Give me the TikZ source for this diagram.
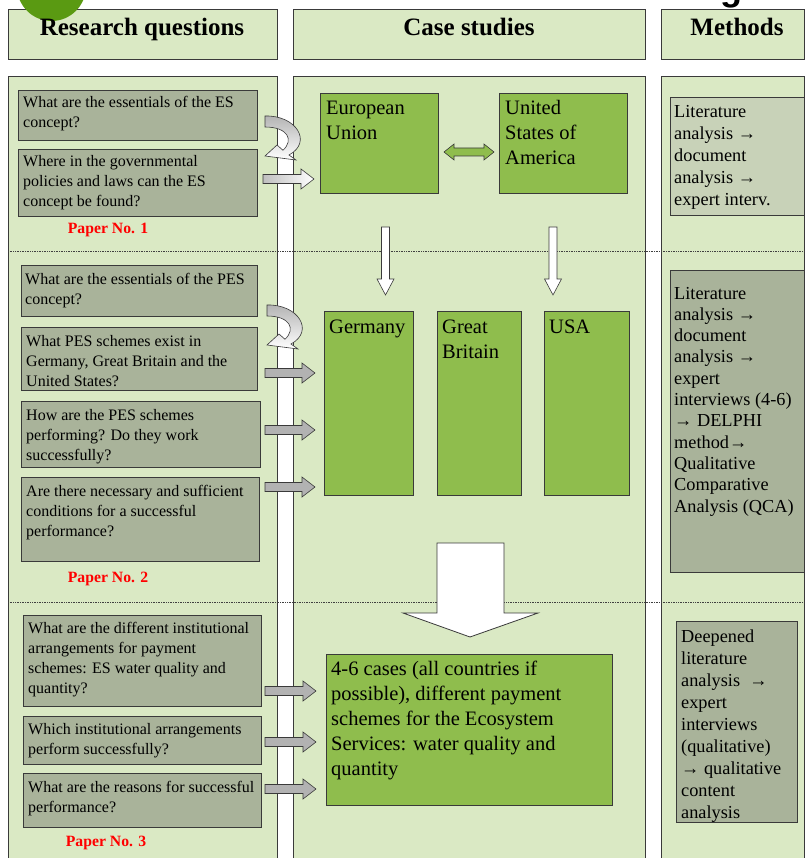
\documentclass[tikz,border=0pt]{standalone}
\usepackage{fontspec}
\setmainfont{Liberation Serif}
\newfontfamily\titlefont{Liberation Sans}
\definecolor{cBg}{HTML}{DAE9C4}
\definecolor{cGray}{HTML}{A9B39A}
\definecolor{cLight}{HTML}{C8D2B8}
\definecolor{cGreen}{HTML}{8FBD4D}
\definecolor{cCircle}{HTML}{5A9A12}
\definecolor{cLine}{HTML}{3A3A3A}
\newcommand\rarrow[4]{\draw[cLine,line width=0.6pt,#4] (#1,#3-4.5) -- (#2-13,#3-4.5) -- (#2-13,#3-10) -- (#2,#3) -- (#2-13,#3+10) -- (#2-13,#3+4.5) -- (#1,#3+4.5) -- cycle;}
\newcommand\darrow[3]{\draw[cLine,line width=0.6pt,fill=white] (#1-4,#2) -- (#1+4,#2) -- (#1+4,#3-16) -- (#1+8.5,#3-16) -- (#1,#3) -- (#1-8.5,#3-16) -- (#1-4,#3-16) -- cycle;}
\newcommand\curvarrow[2]{\begin{scope}[shift={(#1,#2)}]
\draw[cLine,line width=0.6pt,top color=black!30,bottom color=white] (265,116) .. controls (296,115) and (313,142) .. (289,155) -- (296,160) -- (265,156) -- (277,145) -- (283,150.3) .. controls (294,140) and (288,127) .. (265,127) -- cycle;
\end{scope}}
\begin{document}
\begin{tikzpicture}[x=1pt,y=-1pt,
  colbox/.style={draw=cLine,fill=cBg,line width=0.8pt,inner sep=0,anchor=north west},
  qbox/.style={draw=cLine,fill=cGray,line width=0.8pt,inner sep=0,anchor=north west},
  gbox/.style={draw=cLine,fill=cGreen,line width=0.8pt,inner sep=0,anchor=north west},
  lbox/.style={draw=cLine,fill=cLight,line width=0.8pt,inner sep=0,anchor=north west},
  htext/.style={font=\fontsize{25}{28}\selectfont\bfseries,inner sep=0,anchor=base},
  qtext/.style={font=\fontsize{16}{20}\selectfont,align=left,inner sep=0,anchor=base west},
  gtext/.style={font=\fontsize{20.5}{25}\selectfont,align=left,inner sep=0,anchor=base west},
  mtext/.style={font=\fontsize{18.3}{21.3}\selectfont,align=left,inner sep=0,anchor=base west},
  ptext/.style={font=\fontsize{15.7}{18}\selectfont\bfseries,text=red,inner sep=0,anchor=base}]
\useasboundingbox (0,0) rectangle (805,858);
% cut-off title fragment
\node[font=\fontsize{36}{40}\selectfont\titlefont\bfseries,inner sep=0,anchor=base west] (title) at (720,0.5) {g};
% headers
\node[colbox,minimum width=269,minimum height=50] (h1) at (8,9) {};
\node[colbox,minimum width=352,minimum height=50] (h2) at (293,9) {};
\node[colbox,minimum width=143,minimum height=50] (h3) at (661,9) {};
\node[circle,fill=cCircle,minimum size=69,inner sep=0] (logo) at (51.5,-13.5) {};
\node[htext] (ht1) at (142,36) {Research questions};
\node[htext] (ht2) at (469,36) {Case studies};
\node[htext] (ht3) at (737,36) {Methods};
% columns
\node[colbox,minimum width=269,minimum height=800] (c1) at (8,76) {};
\node[colbox,minimum width=352,minimum height=800] (c2) at (293,76) {};
\node[colbox,minimum width=143,minimum height=800] (c3) at (661,76) {};
\coordinate (d1l) at (8,251); \coordinate (d1r) at (805,251);
\coordinate (d2l) at (8,602); \coordinate (d2r) at (805,602);
\draw[densely dotted,black!75,line width=0.7pt] (d1l) -- (d1r);
\draw[densely dotted,black!75,line width=0.7pt] (d2l) -- (d2r);
% questions
\node[qbox,minimum width=239,minimum height=50] (q1) at (18,90) {};
\node[qtext] (tq1) at (23,128) {What are the essentials of the ES\\concept?};
\node[qbox,minimum width=239,minimum height=67] (q2) at (18,149) {};
\node[qtext] (tq2) at (23,207) {Where in the governmental\\policies and laws can the ES\\concept be found?};
\node[ptext] (p1) at (108,234) {Paper No. 1};
\node[qbox,minimum width=236,minimum height=51] (q3) at (21,265) {};
\node[qtext] (tq3) at (25,304) {What are the essentials of the PES\\concept?};
\node[qbox,minimum width=236,minimum height=63] (q4) at (21,327) {};
\node[qtext] (tq4) at (26,386) {What PES schemes exist in\\Germany, Great Britain and the\\United States?};
\node[qbox,minimum width=239,minimum height=66] (q5) at (21,401) {};
\node[qtext] (tq5) at (26,460) {How are the PES schemes\\performing? Do they work\\successfully?};
\node[qbox,minimum width=238,minimum height=84] (q6) at (21,477) {};
\node[qtext] (tq6) at (26,536) {Are there necessary and sufficient\\conditions for a successful\\performance?};
\node[ptext] (p2) at (108,582) {Paper No. 2};
\node[qbox,minimum width=238,minimum height=91] (q7) at (23,615) {};
\node[qtext] (tq7) at (28,693) {What are the different institutional\\arrangements for payment\\schemes: ES water quality and\\quantity?};
\node[qbox,minimum width=238,minimum height=48] (q8) at (23,716) {};
\node[qtext] (tq8) at (28,754) {Which institutional arrangements\\perform successfully?};
\node[qbox,minimum width=238,minimum height=54] (q9) at (23,773) {};
\node[qtext] (tq9) at (28,812) {What are the reasons for successful\\performance?};
\node[ptext] (p3) at (106,846) {Paper No. 3};
% cases
\node[gbox,minimum width=118,minimum height=100] (eu) at (320,93) {};
\node[gtext] (teu) at (326,140) {European\\Union};
\node[gbox,minimum width=128,minimum height=100] (us) at (499,93) {};
\node[gtext] (tus) at (505,165) {United\\States of\\America};
\node[gbox,minimum width=89,minimum height=184] (de) at (324,311) {};
\node[gtext] (tde) at (329,333) {Germany};
\node[gbox,minimum width=84,minimum height=184] (gb) at (437,311) {};
\node[gtext] (tgb) at (442,358) {Great\\Britain};
\node[gbox,minimum width=85,minimum height=184] (usa) at (544,311) {};
\node[gtext] (tusa) at (549,333) {USA};
\node[gbox,minimum width=286,minimum height=151] (cs) at (326,654) {};
\node[gtext] (tcs) at (331,775) {4-6 cases (all countries if\\possible), different payment\\schemes for the Ecosystem\\Services: water quality and\\quantity};
% methods
\node[lbox,minimum width=134,minimum height=118] (m1) at (670,97) {};
\node[mtext,font=\fontsize{18.3}{22}\selectfont] (tm1) at (674,206) {Literature\\analysis →\\document\\analysis →\\expert interv.};
\node[qbox,minimum width=134,minimum height=302] (m2) at (670,270) {};
\node[mtext] (tm2) at (674,512) {Literature\\analysis →\\document\\analysis →\\expert\\interviews (4-6)\\→ DELPHI\\method→\\Qualitative\\Comparative\\Analysis (QCA)};
\node[qbox,minimum width=121,minimum height=201] (m3) at (676,621) {};
\node[mtext,font=\fontsize{18.3}{22}\selectfont] (tm3) at (681,818) {Deepened\\literature\\analysis \ →\\expert\\interviews\\(qualitative)\\→ qualitative\\content\\analysis};
% arrows
\curvarrow{0}{0}
\curvarrow{2}{189}
\rarrow{263}{314}{179}{left color=black!25,right color=white}
\rarrow{265}{315}{373}{fill=black!30}
\rarrow{265}{315}{430}{fill=black!30}
\rarrow{265}{315}{487}{fill=black!30}
\rarrow{265}{316}{691}{fill=black!30}
\rarrow{265}{316}{742}{fill=black!30}
\rarrow{265}{316}{789}{fill=black!30}
\draw[cLine,line width=0.6pt,fill=cGreen] (444,152) -- (454,144) -- (454,148) -- (484,148) -- (484,144) -- (494,152) -- (484,160) -- (484,156) -- (454,156) -- (454,160) -- cycle;
\darrow{385.5}{227}{295}
\darrow{553}{227}{295}
\draw[cLine,line width=0.8pt,fill=white] (437,543) -- (504,543) -- (504,613) -- (538,613) -- (470,637) -- (403,613) -- (437,613) -- cycle;
\end{tikzpicture}
\end{document}
